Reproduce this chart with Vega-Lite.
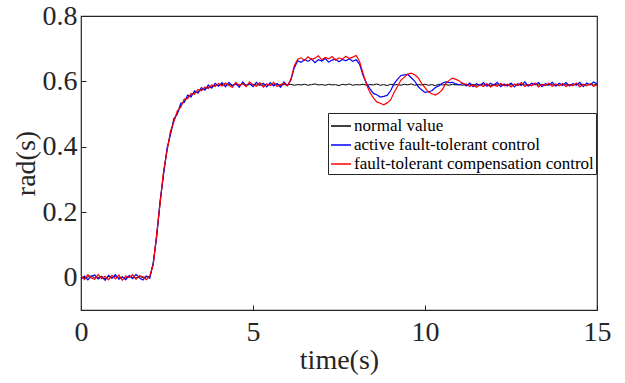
{
  "$schema": "https://vega.github.io/schema/vega-lite/v6.json",
  "width": 516,
  "height": 294,
  "autosize": {"type": "none"},
  "padding": {"left": 81, "top": 16, "right": 28, "bottom": 73},
  "background": "white",
  "config": {
    "view": {"stroke": "#262626", "strokeWidth": 1.2},
    "font": "Liberation Serif",
    "axis": {
      "labelFont": "Liberation Serif",
      "titleFont": "Liberation Serif",
      "labelColor": "#262626",
      "titleColor": "#262626",
      "tickColor": "#262626",
      "labelFontSize": 28,
      "titleFontSize": 28,
      "titleFontWeight": "normal",
      "grid": false,
      "domain": false,
      "tickSize": -5,
      "tickWidth": 1
    },
    "legend": {
      "labelFont": "Liberation Serif",
      "labelFontSize": 17,
      "labelColor": "#000000",
      "symbolType": "stroke",
      "symbolSize": 400,
      "symbolStrokeWidth": 1.5,
      "strokeColor": "#262626",
      "fillColor": "white",
      "padding": 2,
      "rowPadding": 0,
      "labelOffset": 2,
      "labelLimit": 0
    }
  },
  "data": {"values": [
    {"t":0.0,"n":0.002,"a":-0.006,"c":0.005},
    {"t":0.1,"n":-0.003,"a":0.004,"c":-0.007},
    {"t":0.2,"n":0.001,"a":-0.008,"c":0.008},
    {"t":0.3,"n":0.004,"a":0.003,"c":-0.002},
    {"t":0.4,"n":-0.002,"a":0.007,"c":-0.006},
    {"t":0.5,"n":0.000,"a":-0.005,"c":0.009},
    {"t":0.6,"n":0.003,"a":0.002,"c":-0.004},
    {"t":0.7,"n":-0.004,"a":-0.009,"c":0.003},
    {"t":0.8,"n":0.002,"a":0.006,"c":-0.008},
    {"t":0.9,"n":-0.001,"a":-0.003,"c":0.006},
    {"t":1.0,"n":0.003,"a":0.008,"c":-0.005},
    {"t":1.1,"n":-0.002,"a":-0.006,"c":0.007},
    {"t":1.2,"n":0.001,"a":0.001,"c":-0.009},
    {"t":1.3,"n":-0.003,"a":-0.007,"c":0.004},
    {"t":1.4,"n":0.004,"a":0.005,"c":-0.001},
    {"t":1.5,"n":0.000,"a":-0.004,"c":0.008},
    {"t":1.6,"n":-0.002,"a":0.009,"c":-0.006},
    {"t":1.7,"n":0.003,"a":-0.002,"c":0.005},
    {"t":1.8,"n":-0.001,"a":-0.008,"c":0.002},
    {"t":1.9,"n":0.002,"a":0.004,"c":-0.007},
    {"t":2.0,"n":0.001,"a":-0.003,"c":0.004},
    {"t":2.1,"n":0.041,"a":0.046,"c":0.038},
    {"t":2.2,"n":0.128,"a":0.124,"c":0.133},
    {"t":2.3,"n":0.229,"a":0.235,"c":0.226},
    {"t":2.4,"n":0.319,"a":0.314,"c":0.325},
    {"t":2.5,"n":0.389,"a":0.395,"c":0.386},
    {"t":2.6,"n":0.441,"a":0.436,"c":0.447},
    {"t":2.7,"n":0.479,"a":0.486,"c":0.476},
    {"t":2.8,"n":0.504,"a":0.499,"c":0.510},
    {"t":2.9,"n":0.526,"a":0.533,"c":0.521},
    {"t":3.0,"n":0.539,"a":0.535,"c":0.546},
    {"t":3.1,"n":0.551,"a":0.558,"c":0.547},
    {"t":3.2,"n":0.557,"a":0.552,"c":0.563},
    {"t":3.3,"n":0.565,"a":0.571,"c":0.560},
    {"t":3.4,"n":0.568,"a":0.564,"c":0.575},
    {"t":3.5,"n":0.575,"a":0.581,"c":0.571},
    {"t":3.6,"n":0.577,"a":0.573,"c":0.583},
    {"t":3.7,"n":0.582,"a":0.588,"c":0.578},
    {"t":3.8,"n":0.583,"a":0.579,"c":0.589},
    {"t":3.9,"n":0.588,"a":0.594,"c":0.584},
    {"t":4.0,"n":0.588,"a":0.585,"c":0.593},
    {"t":4.1,"n":0.591,"a":0.596,"c":0.586},
    {"t":4.2,"n":0.589,"a":0.583,"c":0.595},
    {"t":4.3,"n":0.590,"a":0.597,"c":0.588},
    {"t":4.4,"n":0.588,"a":0.586,"c":0.581},
    {"t":4.5,"n":0.591,"a":0.594,"c":0.597},
    {"t":4.6,"n":0.589,"a":0.582,"c":0.587},
    {"t":4.7,"n":0.592,"a":0.598,"c":0.593},
    {"t":4.8,"n":0.588,"a":0.587,"c":0.584},
    {"t":4.9,"n":0.590,"a":0.593,"c":0.598},
    {"t":5.0,"n":0.591,"a":0.584,"c":0.589},
    {"t":5.1,"n":0.589,"a":0.597,"c":0.585},
    {"t":5.2,"n":0.590,"a":0.588,"c":0.596},
    {"t":5.3,"n":0.588,"a":0.594,"c":0.582},
    {"t":5.4,"n":0.591,"a":0.583,"c":0.592},
    {"t":5.5,"n":0.589,"a":0.596,"c":0.587},
    {"t":5.6,"n":0.590,"a":0.586,"c":0.597},
    {"t":5.7,"n":0.592,"a":0.593,"c":0.584},
    {"t":5.8,"n":0.588,"a":0.582,"c":0.590},
    {"t":5.9,"n":0.590,"a":0.598,"c":0.594},
    {"t":6.0,"n":0.589,"a":0.587,"c":0.586},
    {"t":6.1,"n":0.591,"a":0.603,"c":0.607},
    {"t":6.2,"n":0.588,"a":0.641,"c":0.648},
    {"t":6.3,"n":0.590,"a":0.663,"c":0.668},
    {"t":6.4,"n":0.589,"a":0.658,"c":0.672},
    {"t":6.5,"n":0.591,"a":0.667,"c":0.664},
    {"t":6.6,"n":0.588,"a":0.661,"c":0.675},
    {"t":6.7,"n":0.590,"a":0.669,"c":0.667},
    {"t":6.8,"n":0.592,"a":0.657,"c":0.671},
    {"t":6.9,"n":0.589,"a":0.666,"c":0.678},
    {"t":7.0,"n":0.590,"a":0.662,"c":0.666},
    {"t":7.1,"n":0.588,"a":0.670,"c":0.673},
    {"t":7.2,"n":0.591,"a":0.659,"c":0.669},
    {"t":7.3,"n":0.589,"a":0.665,"c":0.676},
    {"t":7.4,"n":0.590,"a":0.668,"c":0.665},
    {"t":7.5,"n":0.587,"a":0.660,"c":0.672},
    {"t":7.6,"n":0.591,"a":0.667,"c":0.668},
    {"t":7.7,"n":0.589,"a":0.663,"c":0.677},
    {"t":7.8,"n":0.592,"a":0.669,"c":0.670},
    {"t":7.9,"n":0.588,"a":0.661,"c":0.674},
    {"t":8.0,"n":0.590,"a":0.666,"c":0.679},
    {"t":8.1,"n":0.589,"a":0.652,"c":0.660},
    {"t":8.2,"n":0.591,"a":0.618,"c":0.624},
    {"t":8.3,"n":0.588,"a":0.594,"c":0.590},
    {"t":8.4,"n":0.590,"a":0.577,"c":0.566},
    {"t":8.5,"n":0.589,"a":0.563,"c":0.549},
    {"t":8.6,"n":0.592,"a":0.559,"c":0.537},
    {"t":8.7,"n":0.588,"a":0.552,"c":0.533},
    {"t":8.8,"n":0.590,"a":0.554,"c":0.528},
    {"t":8.9,"n":0.587,"a":0.557,"c":0.534},
    {"t":9.0,"n":0.591,"a":0.571,"c":0.543},
    {"t":9.1,"n":0.589,"a":0.593,"c":0.566},
    {"t":9.2,"n":0.590,"a":0.606,"c":0.584},
    {"t":9.3,"n":0.588,"a":0.618,"c":0.604},
    {"t":9.4,"n":0.591,"a":0.620,"c":0.613},
    {"t":9.5,"n":0.589,"a":0.621,"c":0.622},
    {"t":9.6,"n":0.592,"a":0.611,"c":0.625},
    {"t":9.7,"n":0.588,"a":0.601,"c":0.620},
    {"t":9.8,"n":0.590,"a":0.584,"c":0.611},
    {"t":9.9,"n":0.589,"a":0.574,"c":0.594},
    {"t":10.0,"n":0.591,"a":0.566,"c":0.581},
    {"t":10.1,"n":0.588,"a":0.568,"c":0.567},
    {"t":10.2,"n":0.590,"a":0.571,"c":0.562},
    {"t":10.3,"n":0.587,"a":0.581,"c":0.558},
    {"t":10.4,"n":0.591,"a":0.586,"c":0.564},
    {"t":10.5,"n":0.589,"a":0.594,"c":0.574},
    {"t":10.6,"n":0.590,"a":0.598,"c":0.593},
    {"t":10.7,"n":0.588,"a":0.596,"c":0.603},
    {"t":10.8,"n":0.591,"a":0.597,"c":0.610},
    {"t":10.9,"n":0.589,"a":0.592,"c":0.606},
    {"t":11.0,"n":0.590,"a":0.589,"c":0.601},
    {"t":11.1,"n":0.588,"a":0.594,"c":0.593},
    {"t":11.2,"n":0.591,"a":0.586,"c":0.591},
    {"t":11.3,"n":0.589,"a":0.595,"c":0.585},
    {"t":11.4,"n":0.590,"a":0.584,"c":0.589},
    {"t":11.5,"n":0.588,"a":0.593,"c":0.582},
    {"t":11.6,"n":0.591,"a":0.587,"c":0.590},
    {"t":11.7,"n":0.589,"a":0.596,"c":0.584},
    {"t":11.8,"n":0.590,"a":0.585,"c":0.593},
    {"t":11.9,"n":0.587,"a":0.594,"c":0.583},
    {"t":12.0,"n":0.591,"a":0.588,"c":0.589},
    {"t":12.1,"n":0.589,"a":0.597,"c":0.585},
    {"t":12.2,"n":0.590,"a":0.584,"c":0.594},
    {"t":12.3,"n":0.588,"a":0.592,"c":0.586},
    {"t":12.4,"n":0.591,"a":0.586,"c":0.591},
    {"t":12.5,"n":0.589,"a":0.595,"c":0.583},
    {"t":12.6,"n":0.590,"a":0.583,"c":0.592},
    {"t":12.7,"n":0.588,"a":0.593,"c":0.587},
    {"t":12.8,"n":0.591,"a":0.587,"c":0.596},
    {"t":12.9,"n":0.589,"a":0.598,"c":0.584},
    {"t":13.0,"n":0.590,"a":0.585,"c":0.590},
    {"t":13.1,"n":0.588,"a":0.594,"c":0.586},
    {"t":13.2,"n":0.591,"a":0.589,"c":0.595},
    {"t":13.3,"n":0.589,"a":0.596,"c":0.583},
    {"t":13.4,"n":0.590,"a":0.584,"c":0.591},
    {"t":13.5,"n":0.587,"a":0.593,"c":0.587},
    {"t":13.6,"n":0.591,"a":0.588,"c":0.594},
    {"t":13.7,"n":0.589,"a":0.597,"c":0.585},
    {"t":13.8,"n":0.590,"a":0.585,"c":0.592},
    {"t":13.9,"n":0.588,"a":0.594,"c":0.586},
    {"t":14.0,"n":0.591,"a":0.587,"c":0.593},
    {"t":14.1,"n":0.589,"a":0.596,"c":0.584},
    {"t":14.2,"n":0.590,"a":0.586,"c":0.590},
    {"t":14.3,"n":0.588,"a":0.593,"c":0.587},
    {"t":14.4,"n":0.591,"a":0.588,"c":0.595},
    {"t":14.5,"n":0.589,"a":0.597,"c":0.583},
    {"t":14.6,"n":0.590,"a":0.584,"c":0.591},
    {"t":14.7,"n":0.588,"a":0.595,"c":0.586},
    {"t":14.8,"n":0.591,"a":0.589,"c":0.593},
    {"t":14.9,"n":0.589,"a":0.598,"c":0.585},
    {"t":15.0,"n":0.590,"a":0.592,"c":0.589}
  ]},
  "transform": [{"fold": ["n", "a", "c"], "as": ["k", "v"]}],
  "encoding": {
    "x": {
      "field": "t", "type": "quantitative", "title": "time(s)",
      "scale": {"domain": [0, 15], "nice": false, "zero": false},
      "axis": {"values": [0, 5, 10, 15], "labelPadding": 13, "titlePadding": 0, "labelFlush": false}
    },
    "y": {
      "field": "v", "type": "quantitative", "title": "rad(s)",
      "scale": {"domain": [-0.1, 0.8], "nice": false, "zero": false},
      "axis": {"values": [0, 0.2, 0.4, 0.6, 0.8], "format": "~g", "labelPadding": 9, "titlePadding": 2, "labelFlush": false}
    },
    "color": {
      "field": "k", "type": "nominal",
      "scale": {"domain": ["n", "a", "c"], "range": ["#000000", "#0000ff", "#ff0000"]},
      "legend": {
        "title": null, "orient": "none", "legendX": 247, "legendY": 97,
        "labelExpr": "datum.value == 'n' ? 'normal value' : datum.value == 'a' ? 'active fault-tolerant control' : 'fault-tolerant compensation control'"
      }
    }
  },
  "layer": [
    {"transform": [{"filter": "datum.k == 'n'"}], "mark": {"type": "line", "strokeWidth": 1, "clip": true}},
    {"transform": [{"filter": "datum.k == 'a'"}], "mark": {"type": "line", "strokeWidth": 1.2, "clip": true}},
    {"transform": [{"filter": "datum.k == 'c'"}], "mark": {"type": "line", "strokeWidth": 1.2, "clip": true}}
  ]
}
